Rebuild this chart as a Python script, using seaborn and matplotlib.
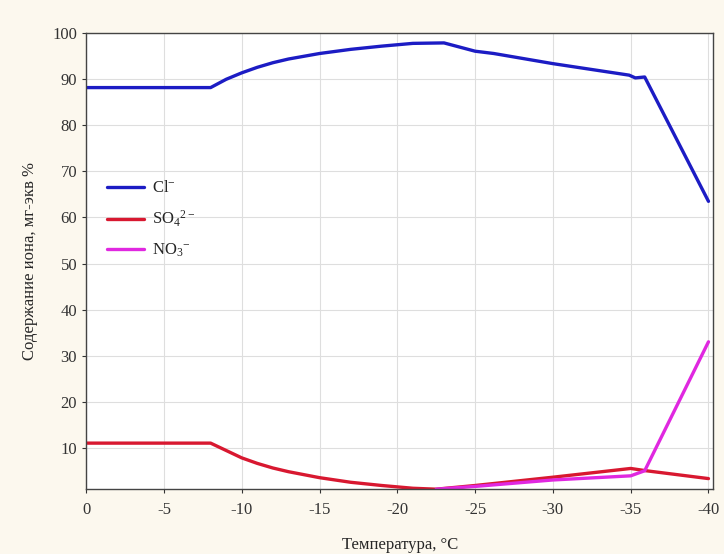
import pandas as pd
import matplotlib.pyplot as plt
import seaborn as sns

# temperature (deg C) and ion content (mg-eq %)
cl_temp = [0, -8, -9, -10, -11, -12, -13, -15, -17, -19, -21, -23, -25, -26.2, -30, -34.9, -35.3, -35.9, -40]
cl_vals = [88.2, 88.2, 90.0, 91.4, 92.6, 93.6, 94.4, 95.6, 96.5, 97.2, 97.8, 97.9, 96.1, 95.6, 93.4, 90.9, 90.3, 90.5, 63.5]

so4_temp = [0, -8, -9, -10, -11, -12, -13, -15, -17, -19, -21, -22.5, -25, -30, -35, -36, -40]
so4_vals = [11.0, 11.0, 9.4, 7.8, 6.6, 5.6, 4.8, 3.5, 2.5, 1.8, 1.2, 1.0, 1.8, 3.6, 5.5, 5.0, 3.3]

no3_temp = [-22.5, -25, -30, -35, -35.9, -40]
no3_vals = [1.0, 1.6, 3.0, 3.9, 5.0, 33.0]

labels = [r"Cl$^{-}$", r"SO$_4$$^{2-}$", r"NO$_3$$^{-}$"]
colors = ["#1c1cc4", "#d81830", "#e028e0"]

df = pd.concat([
    pd.DataFrame({"T": cl_temp, "C": cl_vals, "ion": labels[0]}),
    pd.DataFrame({"T": so4_temp, "C": so4_vals, "ion": labels[1]}),
    pd.DataFrame({"T": no3_temp, "C": no3_vals, "ion": labels[2]}),
])

sns.set_style("white")
plt.rcParams["font.family"] = ["Liberation Serif", "DejaVu Serif"]
plt.rcParams["mathtext.fontset"] = "custom"
plt.rcParams["mathtext.rm"] = "Liberation Serif"
plt.rcParams["mathtext.it"] = "Liberation Serif"

fig = plt.figure(figsize=(7.24, 5.54), dpi=100, facecolor="#fcf8ee")
ax = fig.add_axes([0.119, 0.117, 0.866, 0.823])
ax.set_facecolor("white")

sns.lineplot(data=df, x="T", y="C", hue="ion", palette=colors,
             sort=False, estimator=None, linewidth=2.4, ax=ax)

ax.set_xlim(0, -40.3)
ax.set_ylim(1, 100)
ax.set_xticks(range(0, -41, -5))
ax.set_xticklabels(["0", "-5", "-10", "-15", "-20", "-25", "-30", "-35", "-40"])
ax.set_yticks(range(10, 101, 10))
ax.grid(True, color="#dedede", linewidth=0.8)
ax.tick_params(labelsize=12, colors="#333333", length=3, direction="out",
               left=True, bottom=True)
ax.tick_params(axis="x", pad=6)
for s in ax.spines.values():
    s.set_color("#444444")
    s.set_linewidth(1.0)

ax.set_xlabel("Температура, °C", fontsize=12, labelpad=14)
ax.set_ylabel("Содержание иона, мг-экв %", fontsize=12, labelpad=10)

leg = ax.legend(loc="upper left", bbox_to_anchor=(0.01, 0.71), frameon=False,
                fontsize=12, handlelength=2.2, handletextpad=0.5,
                labelspacing=0.75)
for line in leg.get_lines():
    line.set_linewidth(2.4)

fig.savefig("out.png", dpi=100, facecolor=fig.get_facecolor())
